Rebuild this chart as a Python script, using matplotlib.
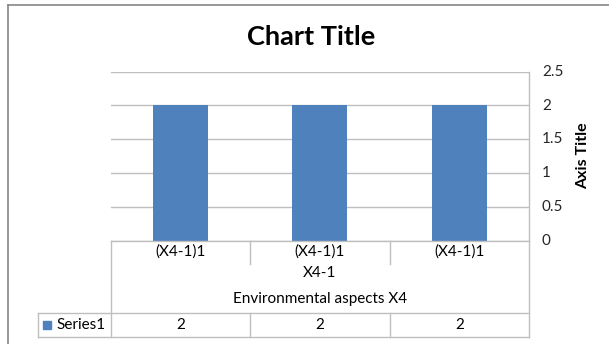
import numpy as np
import matplotlib.pyplot as plt
from matplotlib.lines import Line2D

# datos del gráfico
categorias = ["(X4-1)1", "(X4-1)1", "(X4-1)1"]
grupo = "X4-1"
grupo_superior = "Environmental aspects X4"
serie = "Series1"
valores = [2, 2, 2]
yticks = [0, 0.5, 1, 1.5, 2, 2.5]

W, H = 609, 344
fig = plt.figure(figsize=(W / 100, H / 100), dpi=100)
plt.rcParams['font.family'] = ['Lato', 'DejaVu Sans']

def px(x, y):
    return x / W, 1 - y / H

def linea(x0, y0, x1, y1, color='#BFBFBF', lw=1.0):
    a, b = px(x0, y0)
    c, d = px(x1, y1)
    fig.add_artist(Line2D([a, c], [b, d], transform=fig.transFigure, color=color, lw=lw))

def texto(x, y, s, **kw):
    a, b = px(x, y)
    fig.text(a, b, s, transform=fig.transFigure, **kw)

# área del gráfico
izq, der, arriba, abajo = 110.5, 529, 71.7, 240.7
ax = fig.add_axes([izq / W, 1 - abajo / H, (der - izq) / W, (abajo - arriba) / H])
x = np.arange(len(valores))
ax.bar(x, valores, width=0.395, color='#4F81BD', zorder=3)
ax.set_xlim(-0.5, len(valores) - 0.5)
ax.set_ylim(0, 2.5)
ax.set_yticks(yticks)
ax.yaxis.grid(True, color='#BFBFBF', lw=1.0, zorder=0)
for s in ax.spines.values():
    s.set_visible(False)
ax.tick_params(left=False, right=False, bottom=False, labelleft=False, labelbottom=False)
ax.set_facecolor('none')

# etiquetas del eje derecho
for t in yticks:
    yy = abajo - (abajo - arriba) * t / 2.5
    texto(542, yy, f"{t:g}", ha='left', va='center', fontsize=11, color='#262626')
texto(583, 156, "Axis Title", rotation=90, ha='center', va='center',
      fontsize=11.5, fontweight='bold')

# título
texto(311, 37, "Chart Title", ha='center', va='center', fontsize=19.5, fontweight='bold')

# tabla de datos
ancho = (der - izq) / len(valores)
bordes = [izq + i * ancho for i in range(len(valores) + 1)]
fila1, fila_val, fondo = 264, 313, 337
linea(der, arriba, der, fondo)
linea(izq, abajo, der, abajo)
linea(izq, abajo, izq, fondo)
for b in bordes[1:-1]:
    linea(b, abajo, b, fila1)
    linea(b, fila_val, b, fondo)
linea(38, fila_val, der, fila_val)
linea(38, fondo, der, fondo)
linea(38, fila_val, 38, fondo)
for i, c in enumerate(categorias):
    cx = (bordes[i] + bordes[i + 1]) / 2
    texto(cx, 252, c, ha='center', va='center', fontsize=11)
    texto(cx, 325, f"{valores[i]:g}", ha='center', va='center', fontsize=11)
texto((izq + der) / 2, 273, grupo, ha='center', va='center', fontsize=11)
texto((izq + der) / 2, 299, grupo_superior, ha='center', va='center', fontsize=11)

# leyenda
a, b = px(47, 325)
fig.add_artist(Line2D([a], [b], transform=fig.transFigure, marker='s', ms=6,
                      color='#4F81BD', lw=0))
texto(56, 325, serie, ha='left', va='center', fontsize=11)

# borde exterior
linea(8, 5, W, 5, color='#868686', lw=1.2)
linea(8, 5, 8, H, color='#868686', lw=1.2)

fig.savefig('out.png', dpi=100)
